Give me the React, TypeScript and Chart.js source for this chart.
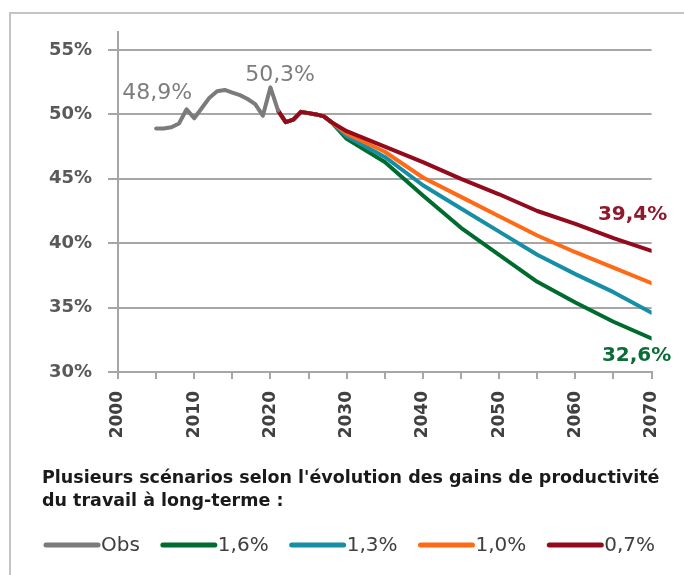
import React, { useEffect, useRef } from "react";
import { Chart, registerables } from "chart.js";

Chart.register(...registerables);

// ---- Data ----
const obsYears = [2005, 2006, 2007, 2008, 2009, 2010, 2011, 2012, 2013, 2014, 2015, 2016, 2017, 2018, 2019, 2020, 2021];
const obsValues = [48.9, 48.9, 49.0, 49.3, 50.4, 49.7, 50.5, 51.3, 51.8, 51.9, 51.7, 51.5, 51.2, 50.8, 49.9, 52.1, 50.3];

const scenarioYears = [2021, 2022, 2023, 2024, 2025, 2026, 2027, 2028, 2030, 2035, 2040, 2045, 2050, 2055, 2060, 2065, 2070];
const scen16 = [50.3, 49.4, 49.6, 50.2, 50.1, 50.0, 49.85, 49.4, 48.1, 46.3, 43.7, 41.2, 39.1, 37.0, 35.4, 33.9, 32.6];
const scen13 = [50.3, 49.4, 49.6, 50.2, 50.1, 50.0, 49.85, 49.4, 48.3, 46.7, 44.5, 42.7, 40.9, 39.1, 37.6, 36.2, 34.6];
const scen10 = [50.3, 49.4, 49.6, 50.2, 50.1, 50.0, 49.85, 49.4, 48.5, 47.1, 45.1, 43.6, 42.1, 40.6, 39.3, 38.1, 36.9];
const scen07 = [50.3, 49.4, 49.6, 50.2, 50.1, 50.0, 49.85, 49.4, 48.7, 47.5, 46.3, 45.0, 43.8, 42.5, 41.5, 40.4, 39.4];

const seriesLabels = ["Obs", "1,6%", "1,3%", "1,0%", "0,7%"];
const xMin = 2000;
const xMax = 2070;
const xLabelStep = 10;
const xTickStep = 5;
const yMin = 30;
const yMax = 56.4;
const yTickStep = 5;
const legendTitle = [
  "Plusieurs scénarios selon l'évolution des gains de productivité",
  "du travail à long-terme :",
];

const fmtPct = (v: number) => v.toFixed(1).replace(".", ",") + "%";
const zip = (xs: number[], ys: number[]) => xs.map((x, i) => ({ x, y: ys[i] }));

const COLORS = {
  obs: "#7b7b7b",
  g16: "#006b2e",
  g13: "#168fa6",
  g10: "#ff6a17",
  g07: "#930a1d",
};

const valueLabelsPlugin = {
  id: "valueLabels",
  afterDatasetsDraw(chart: any, _args: any, opts: any) {
    const { ctx } = chart;
    const xs = chart.scales.x;
    const ys = chart.scales.y;
    for (const a of opts.items || []) {
      const ds = chart.data.datasets[a.dataset];
      const idx = a.index < 0 ? ds.data.length + a.index : a.index;
      const p = ds.data[idx];
      const px = xs.getPixelForValue(p.x) + a.dx;
      const py = ys.getPixelForValue(p.y) + a.dy;
      ctx.save();
      ctx.font = a.font;
      ctx.fillStyle = a.color;
      ctx.textAlign = "center";
      ctx.textBaseline = "middle";
      ctx.fillText(fmtPct(p.y), px, py);
      ctx.restore();
    }
  },
};

const customLegendPlugin = {
  id: "customLegend",
  afterDraw(chart: any, _args: any, opts: any) {
    const { ctx } = chart;
    const H = chart.height;
    ctx.save();
    ctx.font = opts.titleFont;
    ctx.fillStyle = opts.titleColor;
    ctx.textAlign = "left";
    ctx.textBaseline = "alphabetic";
    opts.title.forEach((line: string, i: number) => {
      ctx.fillText(line, opts.titleX, H - opts.titleBottomOffset + i * opts.titleLineHeight);
    });
    const y = H - opts.itemsBottomOffset;
    let x = opts.itemsX;
    ctx.font = opts.itemFont;
    ctx.textBaseline = "middle";
    chart.data.datasets.forEach((ds: any) => {
      ctx.strokeStyle = ds.borderColor;
      ctx.lineWidth = opts.lineThickness;
      ctx.lineCap = "round";
      ctx.beginPath();
      ctx.moveTo(x, y);
      ctx.lineTo(x + opts.lineLength, y);
      ctx.stroke();
      x += opts.lineLength + opts.textGap;
      ctx.fillStyle = opts.itemColor;
      ctx.fillText(ds.label, x, y + 1);
      x += ctx.measureText(ds.label).width + opts.itemGap;
    });
    ctx.restore();
  },
};

export default function App() {
  const canvasRef = useRef<HTMLCanvasElement | null>(null);

  useEffect(() => {
    if (!canvasRef.current) return;
    const lineBase = {
      borderWidth: 4,
      pointRadius: 0,
      tension: 0,
      fill: false,
      borderCapStyle: "round" as const,
      borderJoinStyle: "round" as const,
    };
    const chart = new Chart(canvasRef.current, {
      type: "line",
      data: {
        datasets: [
          { ...lineBase, label: seriesLabels[0], data: zip(obsYears, obsValues), borderColor: COLORS.obs, backgroundColor: COLORS.obs, order: 0 },
          { ...lineBase, label: seriesLabels[1], data: zip(scenarioYears, scen16), borderColor: COLORS.g16, backgroundColor: COLORS.g16, order: 4 },
          { ...lineBase, label: seriesLabels[2], data: zip(scenarioYears, scen13), borderColor: COLORS.g13, backgroundColor: COLORS.g13, order: 3 },
          { ...lineBase, label: seriesLabels[3], data: zip(scenarioYears, scen10), borderColor: COLORS.g10, backgroundColor: COLORS.g10, order: 2 },
          { ...lineBase, label: seriesLabels[4], data: zip(scenarioYears, scen07), borderColor: COLORS.g07, backgroundColor: COLORS.g07, order: 1 },
        ],
      },
      options: {
        animation: false,
        responsive: false,
        maintainAspectRatio: false,
        layout: { padding: { top: 32, right: 26, bottom: 133, left: 0 } },
        plugins: {
          legend: { display: false },
          tooltip: { enabled: false },
          valueLabels: {
            items: [
              { dataset: 0, index: 0, dx: 1, dy: -35, font: "22px 'DejaVu Sans'", color: "#7d7d7d" },
              { dataset: 0, index: -1, dx: 2, dy: -35, font: "22px 'DejaVu Sans'", color: "#7d7d7d" },
              { dataset: 4, index: -1, dx: -19, dy: -36, font: "bold 20px 'DejaVu Sans'", color: "#8f1a2c" },
              { dataset: 1, index: -1, dx: -15, dy: 17, font: "bold 20px 'DejaVu Sans'", color: "#0a6d38" },
            ],
          },
          customLegend: {
            title: legendTitle,
            titleFont: "bold 17.5px 'DejaVu Sans'",
            titleColor: "#1a1a1a",
            titleX: 42,
            titleBottomOffset: 92,
            titleLineHeight: 23,
            itemsX: 46,
            itemsBottomOffset: 30,
            lineLength: 52,
            lineThickness: 5,
            textGap: 3,
            itemGap: 23,
            itemFont: "20px 'DejaVu Sans'",
            itemColor: "#404040",
          },
        } as any,
        scales: {
          x: {
            type: "linear",
            min: xMin,
            max: xMax,
            afterFit: (s: any) => {
              s.height = 70;
            },
            grid: {
              drawOnChartArea: false,
              drawTicks: true,
              tickLength: 7,
              color: "#a6a6a6",
              lineWidth: 2,
            },
            border: { display: true, color: "#a6a6a6", width: 2 },
            ticks: {
              stepSize: xTickStep,
              autoSkip: false,
              minRotation: 90,
              maxRotation: 90,
              padding: 12,
              color: "#404040",
              font: { family: "'DejaVu Sans'", size: 17, weight: "bold" },
              callback: (v: any) => (Number(v) % xLabelStep === 0 ? String(v) : ""),
            },
          },
          y: {
            type: "linear",
            min: yMin,
            max: yMax,
            afterFit: (s: any) => {
              s.width = 118;
            },
            grid: {
              drawOnChartArea: true,
              drawTicks: true,
              tickLength: 10,
              color: "#a6a6a6",
              lineWidth: 2,
            },
            border: { display: true, color: "#a6a6a6", width: 2 },
            ticks: {
              stepSize: yTickStep,
              includeBounds: false,
              padding: 16,
              color: "#595959",
              font: { family: "'DejaVu Sans'", size: 18, weight: "bold" },
              callback: (v: any) => v + "%",
            },
          },
        },
      },
      plugins: [valueLabelsPlugin, customLegendPlugin],
    });
    return () => chart.destroy();
  }, []);

  return (
    <div style={{ position: "fixed", left: 0, top: 0, width: 684, height: 575, background: "#ffffff", overflow: "hidden" }}>
      <div
        style={{
          position: "absolute",
          left: 9,
          top: 12,
          width: 720,
          height: 620,
          borderLeft: "2px solid #c4c4c4",
          borderTop: "2px solid #c4c4c4",
        }}
      />
      <canvas ref={canvasRef} width={684} height={575} style={{ position: "absolute", left: 0, top: 0, width: 684, height: 575 }} />
    </div>
  );
}
